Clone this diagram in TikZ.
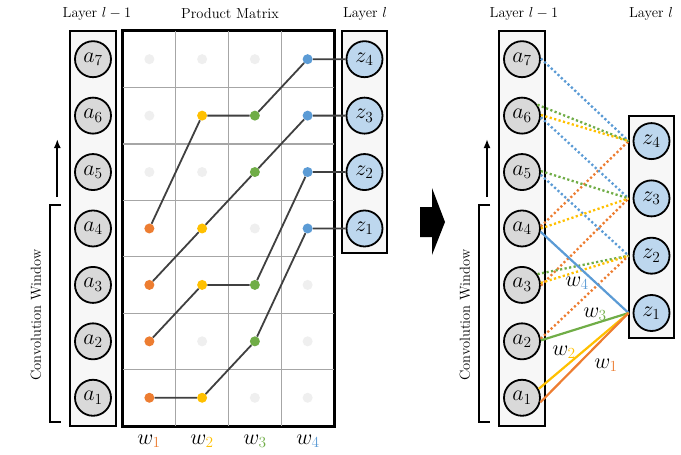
\RequirePackage{fix-cm}
\documentclass[tikz,border=0pt]{standalone}
\usetikzlibrary{calc,arrows.meta}
\definecolor{cOr}{HTML}{ED7D31}
\definecolor{cYe}{HTML}{FFC000}
\definecolor{cGr}{HTML}{70AD47}
\definecolor{cBl}{HTML}{5B9BD5}
\definecolor{aGray}{HTML}{D9D9D9}
\definecolor{zBlue}{HTML}{BDD7EE}
\definecolor{boxGray}{HTML}{F7F7F7}
\definecolor{dotGray}{HTML}{EFEFEF}
\definecolor{gridGray}{HTML}{A6A6A6}
\definecolor{lineDark}{HTML}{404040}
\begin{document}
\begin{tikzpicture}[x=1pt,y=-1pt,
  anode/.style={circle, draw, line width=1.8pt, fill=aGray, minimum size=36pt, inner sep=0pt, font=\fontsize{22}{24}\selectfont},
  znode/.style={anode, fill=zBlue},
  layerbox/.style={draw, line width=1.8pt, fill=boxGray, inner sep=0pt},
  matbox/.style={draw, line width=1.8pt, fill=white, inner sep=0pt},
  gridline/.style={draw=gridGray, line width=1.3pt},
  pdot/.style={circle, inner sep=0pt, minimum size=10pt},
  pathline/.style={draw=lineDark, line width=1.8pt},
  lbl/.style={font=\fontsize{14.5}{16}\selectfont},
  wlbl/.style={font=\fontsize{22}{24}\selectfont},
  solidw/.style={line width=2.2pt},
  dotw/.style={line width=2.3pt, dash pattern=on 2.2pt off 2.4pt},
  bracket/.style={line width=1.5pt},
  uparrow/.style={line width=1.8pt, -{Latex[length=9pt,width=7pt]}}
]
\useasboundingbox (0,0) rectangle (681,455);

% ---------------- left panel ----------------
\node[layerbox, minimum width=46pt, minimum height=395pt] (Lbox) at (93,228.5) {};
\node[matbox, minimum width=211pt, minimum height=395pt] (Mbox) at (228.5,228.5) {};
\node[layerbox, minimum width=45pt, minimum height=222pt] (Zbox) at (364.5,142) {};

\foreach \k in {1,2,3} \draw[gridline] ({123+52.75*\k},31) -- ({123+52.75*\k},426);
\foreach \k in {1,...,6} \draw[gridline] (123,{31+56.43*\k}) -- (334,{31+56.43*\k});
\draw[line width=1.8pt] (Mbox.north west) rectangle (Mbox.south east);

\foreach \i in {1,...,7}
  \node[anode] (a\i) at (93,{454.2-56.43*\i}) {$a_{\i}$};
\foreach \j in {1,...,4}
  \node[znode] (z\j) at (364.5,{454.2-56.43*(\j+3)}) {$z_{\j}$};

\foreach \c/\r/\col in {1/1/cOr,1/2/cOr,1/3/cOr,1/4/cOr,1/5/dotGray,1/6/dotGray,1/7/dotGray,
  2/1/cYe,2/2/dotGray,2/3/cYe,2/4/cYe,2/5/dotGray,2/6/cYe,2/7/dotGray,
  3/1/dotGray,3/2/cGr,3/3/cGr,3/4/dotGray,3/5/cGr,3/6/cGr,3/7/dotGray,
  4/1/dotGray,4/2/dotGray,4/3/dotGray,4/4/cBl,4/5/cBl,4/6/cBl,4/7/cBl}
  \node[pdot, fill=\col] (d\c\r) at ({96.625+52.75*\c},{454.2-56.43*\r}) {};

\draw[pathline] (d11) -- (d21) -- (d32) -- (d44) -- (z1);
\draw[pathline] (d12) -- (d23) -- (d33) -- (d45) -- (z2);
\draw[pathline] (d13) -- (d24) -- (d35) -- (d46) -- (z3);
\draw[pathline] (d14) -- (d26) -- (d36) -- (d47) -- (z4);

\node[lbl] (tL1) at (97,14) {Layer $l-1$};
\node[lbl] (tPM) at (230,14) {Product Matrix};
\node[lbl] (tL2) at (365,14) {Layer $l$};

\node[wlbl] (w1) at (149,441) {$w_{\textcolor{cOr}{1}}$};
\node[wlbl] (w2) at (202,441) {$w_{\textcolor{cYe}{2}}$};
\node[wlbl] (w3) at (255,441) {$w_{\textcolor{cGr}{3}}$};
\node[wlbl] (w4) at (308,441) {$w_{\textcolor{cBl}{4}}$};

\coordinate (lbt) at (61,205); \coordinate (lbb) at (61,422);
\draw[bracket] (lbt) -- (50,205) -- (50,422) -- (lbb);
\coordinate (las) at (57.3,197); \coordinate (lae) at (57.3,139);
\draw[uparrow] (las) -- (lae);
\node[lbl, rotate=90] (cwL) at (36,315) {Convolution Window};

% ---------------- block arrow ----------------
\fill (420,207) -- (432,207) -- (432,188) -- (445,222) -- (432,255) -- (432,237) -- (420,237) -- cycle;

% ---------------- right panel ----------------
\node[layerbox, minimum width=46pt, minimum height=395pt] (RLbox) at (522,228.5) {};
\node[layerbox, minimum width=45pt, minimum height=222pt] (RZbox) at (651.5,227) {};

\foreach \i in {1,...,7}
  \node[anode] (ra\i) at (522,{454.2-56.43*\i}) {$a_{\i}$};
\foreach \j in {1,...,4}
  \node[znode] (rz\j) at (651.5,{370.3-57.3*\j}) {$z_{\j}$};
\foreach \j in {1,...,4}
  \coordinate (ez\j) at ($(rz\j.west)+(-4,0)$);

% dotted (z2..z4)
\draw[dotw, cOr] (ra2.8) -- (ez2);
\draw[dotw, cOr] (ra3.-2) -- (ez3);
\draw[dotw, cOr] (ra4.6) -- (ez4);
\draw[dotw, cBl] (ra5.-8) -- (ez2);
\draw[dotw, cBl] (ra6.-5) -- (ez3);
\draw[dotw, cBl] (ra7.2) -- (ez4);
\draw[dotw, cGr] (ra3.35) -- (ez2);
\draw[dotw, cGr] (ra5.3) -- (ez3);
\draw[dotw, cGr] (ra6.35) -- (ez4);
\draw[dotw, cYe] (ra3.6) -- (ez2);
\draw[dotw, cYe] (ra4.0) -- (ez3);
\draw[dotw, cYe] (ra6.2) -- (ez4);
% solid (z1)
\draw[solidw, cBl] (ra4.-10) -- (ez1);
\draw[solidw, cGr] (ra2.3) -- (ez1);
\draw[solidw, cYe] (ra1.28) -- (ez1);
\draw[solidw, cOr] (ra1.-14) -- (ez1);

\node[wlbl] (rw4) at (577,283) {$w_{\textcolor{cBl}{4}}$};
\node[wlbl] (rw3) at (595,314) {$w_{\textcolor{cGr}{3}}$};
\node[wlbl] (rw2) at (564,352) {$w_{\textcolor{cYe}{2}}$};
\node[wlbl] (rw1) at (606,365) {$w_{\textcolor{cOr}{1}}$};

\node[lbl] (rtL1) at (524,14) {Layer $l-1$};
\node[lbl] (rtL2) at (651,14) {Layer $l$};

\coordinate (rbt) at (490,205); \coordinate (rbb) at (490,422);
\draw[bracket] (rbt) -- (479,205) -- (479,422) -- (rbb);
\coordinate (ras) at (487,197); \coordinate (rae) at (487,139);
\draw[uparrow] (ras) -- (rae);
\node[lbl, rotate=90] (cwR) at (465,315) {Convolution Window};
\end{tikzpicture}
\end{document}
